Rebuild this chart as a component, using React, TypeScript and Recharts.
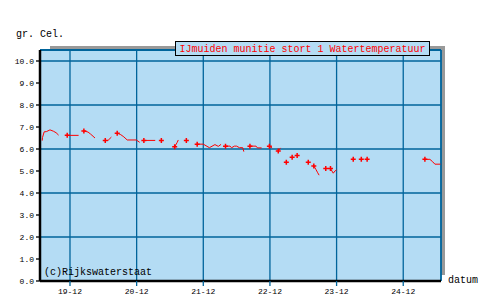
import { CartesianGrid, Line, LineChart, ReferenceLine, XAxis, YAxis } from "recharts";

// hours since 19-12 00:00; null marks a gap in the record
const hours = [
  -10.0, -9.9, -9.3, -8.5, -7.2, -6.0, -5.0, -4.1, null,
  -1.0, 3.1, null,
  5.0, 6.5, 7.4, 8.3, 9.0, null,
  12.7, 13.7, 14.9, null,
  17.0, 18.3, 19.4, 20.6, 23.9, 25.1, null,
  26.6, 30.7, null,
  32.9, null,
  37.7, 38.6, 39.0, null,
  41.9, null,
  45.8, 48.0, 50.2, 52.2, 53.4, 54.4, null,
  56.0, 57.6, 58.2, 59.2, 60.0, 61.0, 62.2, 62.6, null,
  64.8, 67.0, 67.5, 69.0, null,
  71.8, 72.8, null,
  75.0, 75.8, null,
  77.9, null,
  80.0, null,
  81.8, null,
  85.8, null,
  87.8, 88.6, 89.2, 89.7, null,
  92.1, null,
  93.8, 94.8, 95.5, 96.0, null,
  102.0, null,
  104.9, null,
  107.0, null,
  127.8, 129.6, 130.6, 131.4, 133.4,
];

const temps = [
  6.38, 6.52, 6.78, 6.79, 6.87, 6.81, 6.74, 6.63, null,
  6.62, 6.62, null,
  6.82, 6.77, 6.68, 6.58, 6.5, null,
  6.39, 6.39, 6.54, null,
  6.72, 6.65, 6.55, 6.41, 6.41, 6.3, null,
  6.39, 6.39, null,
  6.39, null,
  6.1, 6.3, 6.41, null,
  6.39, null,
  6.22, 6.22, 6.06, 6.2, 6.12, 6.21, null,
  6.13, 6.13, 6.06, 6.13, 6.13, 6.06, 6.06, 5.88, null,
  6.13, 6.13, 6.05, 6.05, null,
  6.13, 6.04, null,
  5.91, 6.05, null,
  5.4, null,
  5.62, null,
  5.71, null,
  5.4, null,
  5.23, 5.06, 4.92, 4.81, null,
  5.11, null,
  5.11, 4.9, 5.01, 5.05, null,
  5.53, null,
  5.53, null,
  5.53, null,
  5.53, 5.53, 5.42, 5.31, 5.31,
];

const dayTicks = [0, 24, 48, 72, 96, 120];
const dayLabels = ["19-12", "20-12", "21-12", "22-12", "23-12", "24-12"];
const tempTicks = [0, 1, 2, 3, 4, 5, 6, 7, 8, 9, 10];

const PLOT_BG = "#b4dcf4";
const GRID = "#00649b";
const MONO = "'Liberation Mono', 'DejaVu Sans Mono', monospace";

function buildSegments() {
  const segs: { h: number; t: number }[][] = [];
  let cur: { h: number; t: number }[] = [];
  hours.forEach((h, i) => {
    const t = temps[i];
    if (h === null || t === null) {
      if (cur.length) segs.push(cur);
      cur = [];
    } else {
      cur.push({ h, t });
    }
  });
  if (cur.length) segs.push(cur);
  return segs;
}

const segments = buildSegments();

// "+" on the first point after a gap
function plusDot(props: any) {
  const { cx, cy, index, key } = props;
  if (index !== 0 || cx == null || cy == null) return <g key={key} />;
  return (
    <path
      key={key}
      d={`M${cx - 2.5},${cy}H${cx + 2.5}M${cx},${cy - 2.5}V${cy + 2.5}`}
      stroke="#ff0000"
      strokeWidth={1.5}
      fill="none"
    />
  );
}

export default function App() {
  return (
    <div style={{ position: "absolute", left: 0, top: 0, width: 490, height: 305, background: "#fff" }}>
      <svg width={490} height={305} style={{ position: "absolute", left: 0, top: 0 }}>
        <rect x={50} y={46} width={395} height={229} fill="#999999" />
      </svg>
      <div style={{ position: "absolute", left: 0, top: 0 }}>
        <LineChart width={490} height={305} margin={{ top: 50, right: 49, bottom: 0, left: 0 }}>
          <CartesianGrid fill={PLOT_BG} stroke={GRID} strokeWidth={1.3} strokeOpacity={1} />
          <XAxis
            type="number"
            dataKey="h"
            domain={[-10.8, 133.6]}
            ticks={dayTicks}
            tickFormatter={(v: number) => dayLabels[dayTicks.indexOf(v)] ?? ""}
            allowDataOverflow
            height={24}
            axisLine={{ stroke: "#000", strokeWidth: 2.5 }}
            tickLine={{ stroke: GRID, strokeWidth: 1.3 }}
            tickSize={5}
            tick={{ fill: "#000", fontSize: 8, fontFamily: MONO }}
          />
          <YAxis
            type="number"
            domain={[0, 10.5]}
            ticks={tempTicks}
            tickFormatter={(v: number) => v.toFixed(1)}
            allowDataOverflow
            width={40}
            axisLine={{ stroke: "#000", strokeWidth: 2.5 }}
            tickLine={{ stroke: "#000", strokeWidth: 1.3 }}
            tickSize={4}
            tick={{ fill: "#000", fontSize: 8, fontFamily: MONO }}
          />
          <ReferenceLine y={10.5} stroke={GRID} strokeWidth={2} />
          <ReferenceLine x={133.6} stroke={GRID} strokeWidth={1.5} />
          {segments.map((seg, i) => (
            <Line
              key={i}
              data={seg}
              dataKey="t"
              type="linear"
              stroke="#ff0000"
              strokeWidth={1}
              dot={i === 0 ? false : plusDot}
              activeDot={false}
              isAnimationActive={false}
            />
          ))}
        </LineChart>
      </div>
      <svg width={490} height={305} style={{ position: "absolute", left: 0, top: 0, pointerEvents: "none" }}>
        <rect x={175.5} y={41.5} width={254} height={14} fill={PLOT_BG} stroke="#000" strokeWidth={1} />
        <text x={302.5} y={52} textAnchor="middle" fontSize={10} fontFamily={MONO} fill="#ff0000">
          IJmuiden munitie stort 1 Watertemperatuur
        </text>
        <text x={16} y={37} fontSize={10} fontFamily={MONO} fill="#000">
          gr. Cel.
        </text>
        <text x={448} y={283} fontSize={10} fontFamily={MONO} fill="#000">
          datum
        </text>
        <text x={44} y={275} fontSize={10} fontFamily={MONO} fill="#000">
          (c)Rijkswaterstaat
        </text>
      </svg>
    </div>
  );
}
